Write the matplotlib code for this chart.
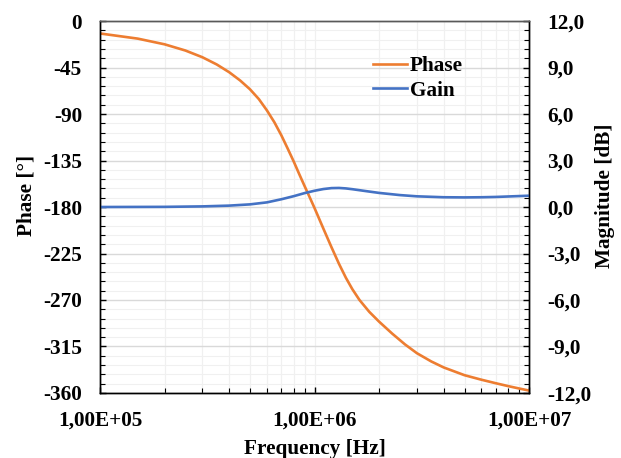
import numpy as np
import matplotlib
matplotlib.use("Agg")
import matplotlib.pyplot as plt
from matplotlib.ticker import FixedLocator, MultipleLocator, FuncFormatter, LogLocator

plt.rcParams["font.family"] = ["Liberation Serif", "DejaVu Serif"]
plt.rcParams["font.weight"] = "bold"
plt.rcParams["axes.unicode_minus"] = False

# phase curve (Hz, degrees)
phase_freq = [1e5, 1.5e5, 2e5, 2.5e5, 3e5, 3.5e5, 4e5, 4.5e5, 5e5, 5.5e5, 6e5, 6.5e5,
              7e5, 7.5e5, 8e5, 8.5e5, 9e5, 9.5e5, 1e6, 1.1e6, 1.2e6, 1.3e6, 1.4e6,
              1.5e6, 1.62e6, 1.8e6, 2e6, 2.3e6, 2.64e6, 3e6, 3.5e6, 4e6, 5e6, 6e6,
              7e6, 8e6, 9e6, 1e7]
phase_deg = [-12, -17, -22.5, -28.5, -35, -42, -49.5, -57.5, -66, -75.5, -86.5, -98,
             -110.5, -123.5, -136, -148.5, -160, -170.7, -181, -201, -219, -235, -248.5,
             -259.5, -270, -281.5, -291, -302.5, -313, -321.5, -329.5, -335.3, -342.8, -347.2,
             -350.6, -353.4, -355.7, -357.7]

# gain curve (Hz, dB)
gain_freq = [1e5, 2e5, 3e5, 4e5, 5e5, 6e5, 7e5, 8e5, 9e5, 1e6, 1.1e6, 1.2e6, 1.3e6,
             1.4e6, 1.5e6, 1.75e6, 2e6, 2.5e6, 3e6, 4e6, 5e6, 6e6, 7e6, 8e6, 1e7]
gain_db = [0.0, 0.01, 0.04, 0.09, 0.17, 0.3, 0.5, 0.7, 0.9, 1.05, 1.16, 1.22, 1.23,
           1.2, 1.15, 1.02, 0.91, 0.77, 0.69, 0.63, 0.62, 0.63, 0.65, 0.68, 0.73]

fs = 15.3
fig = plt.figure(figsize=(6.21, 4.58), dpi=100)
ax = fig.add_axes([0.161, 0.142, 0.691, 0.812])
ax2 = ax.twinx()

l1, = ax.plot(phase_freq, phase_deg, color="#ED7D31", lw=1.9, label="Phase")
l2, = ax2.plot(gain_freq, gain_db, color="#4472C4", lw=1.9, label="Gain")

ax.set_xscale("log")
ax.set_xlim(1e5, 1e7)
ax.set_ylim(-360, 0)
ax2.set_ylim(-12, 12)

ax.xaxis.set_major_locator(FixedLocator([1e5, 1e6, 1e7]))
ax.xaxis.set_minor_locator(LogLocator(base=10, subs=np.arange(2, 10)))
ax.xaxis.set_major_formatter(FuncFormatter(lambda v, p: "1,00E+%02d" % round(np.log10(v))))
ax.xaxis.set_minor_formatter(FuncFormatter(lambda v, p: ""))

ax.yaxis.set_major_locator(MultipleLocator(45))
ax.yaxis.set_minor_locator(MultipleLocator(9))
ax2.yaxis.set_major_locator(MultipleLocator(3))
ax2.yaxis.set_minor_locator(MultipleLocator(0.6))
ax2.yaxis.set_major_formatter(FuncFormatter(lambda v, p: ("%.1f" % v).replace(".", ",")))

# Excel-like grid: darker major horizontals, pale everything else
ax.grid(axis="y", which="major", color="#d9d9d9", lw=1.0)
ax.grid(axis="y", which="minor", color="#f0f0f0", lw=0.8)
ax.grid(axis="x", which="both", color="#f0f0f0", lw=0.9)
ax.set_axisbelow(True)

for a in (ax, ax2):
    a.tick_params(which="both", direction="in", labelsize=fs, color="black")
    a.tick_params(which="major", length=4.5, width=1)
    a.tick_params(which="minor", length=3.5, width=0.8)
    for s in a.spines.values():
        s.set_color("black")
        s.set_linewidth(1.0)
    a.spines["top"].set_color("#595959")
    for lab in a.get_xticklabels() + a.get_yticklabels():
        lab.set_fontweight("bold")
ax.tick_params(axis="y", which="both", right=False, pad=13)
ax.tick_params(axis="x", which="both", top=False, pad=13)
ax2.tick_params(axis="y", which="both", pad=13)

ax.set_xlabel("Frequency [Hz]", fontsize=fs, fontweight="bold")
ax.set_ylabel("Phase [°]", fontsize=fs, fontweight="bold")
ax2.set_ylabel("Magnitude [dB]", fontsize=fs, fontweight="bold")
ax.xaxis.set_label_coords(0.5, -0.123)
ax.yaxis.set_label_coords(-0.147, 0.53)
ax2.yaxis.set_label_coords(1.154, 0.53)

ax.legend(handles=[l1, l2], loc="upper left", bbox_to_anchor=(0.636, 0.905),
          frameon=False, fontsize=fs, handlelength=1.6, handletextpad=0.15,
          borderpad=0, borderaxespad=0, labelspacing=0.2,
          prop={"weight": "bold", "size": fs})

fig.savefig("out.png", dpi=100)
